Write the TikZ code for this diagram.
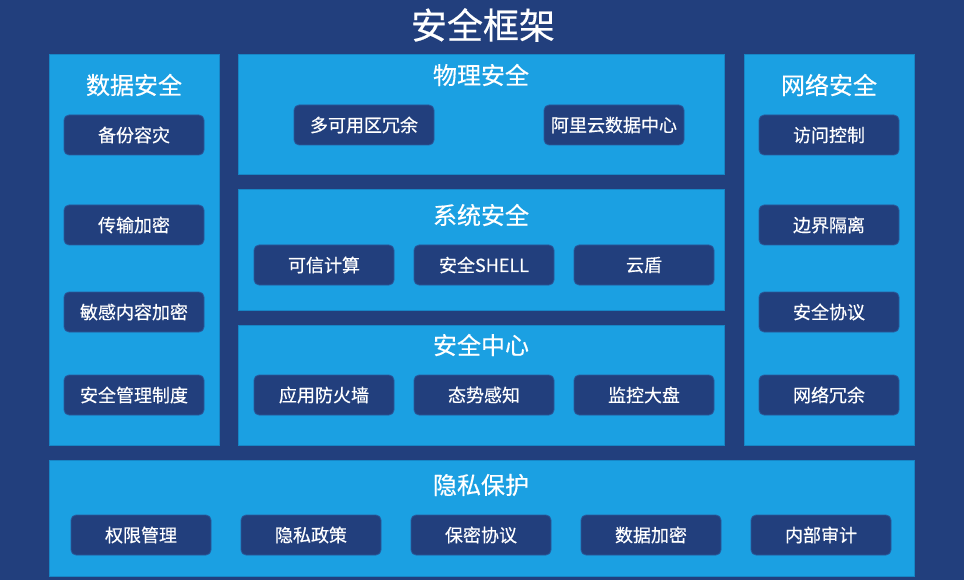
\documentclass[tikz,border=0pt]{standalone}
\usepackage{fontspec}
\setmainfont{Noto Sans CJK SC}[FakeBold=0.4]
\definecolor{navy}{HTML}{223F7D}
\definecolor{sky}{HTML}{1BA0E2}
\definecolor{skyline}{HTML}{1786C6}
\definecolor{boxline}{HTML}{2A5A9C}
\begin{document}
\begin{tikzpicture}[x=1pt, y=-1pt,
        panel/.style={fill=sky, draw=skyline, line width=1pt, inner sep=0pt, outer sep=0pt},
        item/.style={fill=navy, draw=boxline, line width=0.8pt, rounded corners=5pt, minimum width=140pt, minimum height=40pt, inner sep=0pt, text=white, font=\fontsize{18}{21}\selectfont},
        head/.style={text=white, inner sep=0pt, font=\fontsize{24}{28}\selectfont}]
        \fill[navy] (0,0) rectangle (964,580);
        \node[text=white, inner sep=0pt, font=\fontsize{36}{42}\selectfont] (title) at (483,25) {安全框架};

        \node[panel, minimum width=170pt, minimum height=390pt] (data) at (134,250) {};
        \node[panel, minimum width=486pt, minimum height=120pt] (phys) at (481,115) {};
        \node[panel, minimum width=486pt, minimum height=120pt] (sys) at (481,250) {};
        \node[panel, minimum width=486pt, minimum height=120pt] (center) at (481,385) {};
        \node[panel, minimum width=170pt, minimum height=390pt] (net) at (829,250) {};
        \node[panel, minimum width=865pt, minimum height=116pt] (priv) at (481.5,518) {};

        \node[head] (datatitle) at (134,85) {数据安全};
        \node[head] (physttitle) at (481,75) {物理安全};
        \node[head] (systitle) at (481,215) {系统安全};
        \node[head] (centertitle) at (481,345) {安全中心};
        \node[head] (nettitle) at (829,85) {网络安全};
        \node[head] (privtitle) at (481,485) {隐私保护};

        \node[item] (backup) at (134,135) {备份容灾};
        \node[item] (transfer) at (134,225) {传输加密};
        \node[item] (sensitive) at (134,312) {敏感内容加密};
        \node[item] (policy) at (134,395) {安全管理制度};

        \node[item] (zones) at (364,125) {多可用区冗余};
        \node[item] (idc) at (614,125) {阿里云数据中心};

        \node[item] (trusted) at (324,265) {可信计算};
        \node[item] (shell) at (484,265) {安全SHELL};
        \node[item] (shield) at (644,265) {云盾};

        \node[item] (waf) at (324,395) {应用防火墙};
        \node[item] (aware) at (484,395) {态势感知};
        \node[item] (monitor) at (644,395) {监控大盘};

        \node[item] (access) at (829,135) {访问控制};
        \node[item] (border) at (829,225) {边界隔离};
        \node[item] (protocol) at (829,312) {安全协议};
        \node[item] (redund) at (829,395) {网络冗余};

        \node[item] (rights) at (141,535) {权限管理};
        \node[item] (privacy) at (311,535) {隐私政策};
        \node[item] (nda) at (481,535) {保密协议};
        \node[item] (dataenc) at (651,535) {数据加密};
        \node[item] (audit) at (821,535) {内部审计};
    \end{tikzpicture}
\end{document}
